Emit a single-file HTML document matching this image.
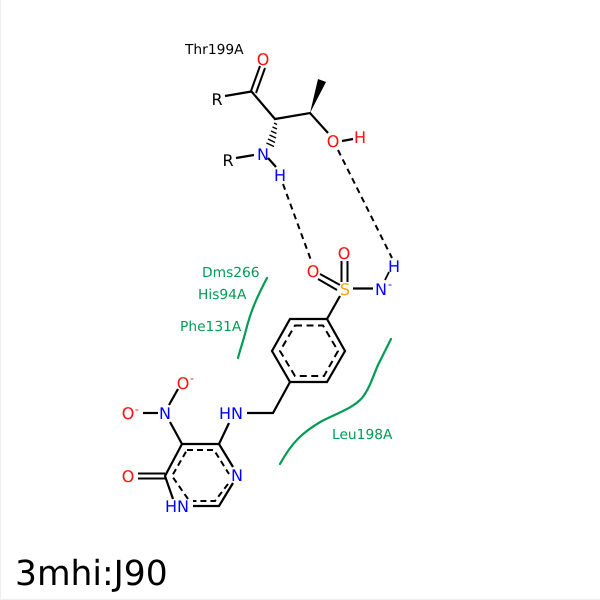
<!DOCTYPE html>
<html><head><meta charset="utf-8"><style>
html,body{margin:0;padding:0;background:#fff}
svg{display:block}
text{font-family:"DejaVu Sans","Liberation Sans",sans-serif;text-rendering:geometricPrecision}
</style></head><body>
<svg width="600" height="600" viewBox="0 0 600 600" xmlns="http://www.w3.org/2000/svg">
<rect width="600" height="600" fill="#fff"/>
<path d="M0.5 0V599.5H600" fill="none" stroke="#eee" stroke-width="1"/>
<g fill="none" stroke="#000" stroke-width="2.200" stroke-linecap="butt">
<!-- Thr199A -->
<path d="M225 96L251.500 91.500L275 119L310 113L328 133"/>
<path d="M251 91L260 66M256 93L265 68" stroke-width="2"/>
<path d="M353 139L342 141"/>
<path d="M254 155L236 158"/>
<path d="M268 158L276 167"/>
<!-- sulfonamide -->
<path d="M341.500 282L341.500 261M347.500 282L347.500 261" stroke-width="2"/>
<path d="M340 285L320 274M337 290L318 279" stroke-width="2"/>
<path d="M353 288.500L373 288.500"/>
<path d="M389 272L385 280" stroke-width="1.800"/>
<path d="M327 319L340 296"/>
<!-- benzene -->
<path d="M290 319L327 319L345 351L327 382L290 382L272 351Z"/>
<path d="M295 325.500L323 325.500L338 351L324 376L295 376L280 351Z" stroke-dasharray="7 4.500" stroke-width="2"/>
<!-- linker -->
<path d="M290 382L273 413L247 413"/>
<path d="M219 444L229 423"/>
<!-- pyrimidine -->
<path d="M182 444L219 444L233 467M233 483L219 506L193 506M173 499L165 476L182 444"/>
<path d="M187 450L214 450L229 474M228 484L215 501L193 501M188 499L172 476L187 450" stroke-dasharray="6 4" stroke-width="2"/>
<path d="M165 473.500L138 473.500M165 478.500L138 478.500" stroke-width="2"/>
<path d="M182 444L170 422"/>
<path d="M158 413L143 413"/>
<path d="M169 405L178 389"/>
</g>
<!-- wedges -->
<polygon points="310,113 318,79 326,82" fill="#000"/>
<g stroke="#000" stroke-width="1.500" fill="none">
<path d="M274 123L277 124.500M272.500 127L277 129M271 131L276.500 133.500M269.500 135L276 138M268 139L275 142.500M266.500 143L274 146.500"/>
</g>
<!-- h-bonds -->
<g fill="none" stroke="#000" stroke-width="2" stroke-dasharray="6 4.500">
<path d="M283 184L312 263"/>
<path d="M338 150L392 258"/>
</g>
<!-- hydrophobic arcs -->
<g fill="none" stroke="#009b55" stroke-width="2.200" stroke-linecap="round">
<path d="M267 278C258 295 251 310 246 330C243 342 240 350 238 358"/>
<path d="M280 464C292 442 303 432 322 421C338 413 353 408 362 398C370 388 373 376 378 365C383 355 387 347 391 339"/>
</g>
<!-- labels -->
<g font-size="13.800" fill="#000">
<text x="185" y="54">Thr199A</text>
</g>
<g font-size="13.800" fill="#009b55">
<text x="202" y="277">Dms266</text>
<text x="198" y="299">His94A</text>
<text x="180" y="331">Phe131A</text>
<text x="332" y="439">Leu198A</text>
</g>
<g font-size="16" text-anchor="middle">
<text x="263" y="65" fill="#ff0d0d">O</text>
<text x="217" y="105" fill="#000">R</text>
<text x="228" y="166" fill="#000">R</text>
<text x="263" y="160" fill="#0000ff">N</text>
<text x="280" y="181" fill="#0000ff">H</text>
<text x="333" y="147" fill="#ff0d0d">O</text>
<text x="360" y="143" fill="#ff0d0d">H</text>
<text x="344" y="259" fill="#ff0d0d">O</text>
<text x="313" y="277" fill="#ff0d0d">O</text>
<text x="345" y="295" fill="#ffa500">S</text>
<text x="381" y="295" fill="#0000ff">N</text>
<text x="394" y="272" fill="#0000ff">H</text>
<text x="183" y="389" fill="#ff0d0d">O</text>
<text x="128" y="419" fill="#ff0d0d">O</text>
<text x="165" y="419" fill="#0000ff">N</text>
<text x="231" y="419" fill="#0000ff">HN</text>
<text x="237" y="481" fill="#0000ff">N</text>
<text x="128" y="482" fill="#ff0d0d">O</text>
<text x="177" y="512" fill="#0000ff">HN</text>
</g>
<g font-size="11" text-anchor="middle">
<text x="390" y="288" fill="#0000ff">-</text>
<text x="192" y="382" fill="#ff0d0d">-</text>
<text x="137" y="413" fill="#ff0d0d">-</text>
</g>
<text x="15" y="585" font-size="34.500" fill="#000">3mhi:J90</text>
</svg>
</body></html>
